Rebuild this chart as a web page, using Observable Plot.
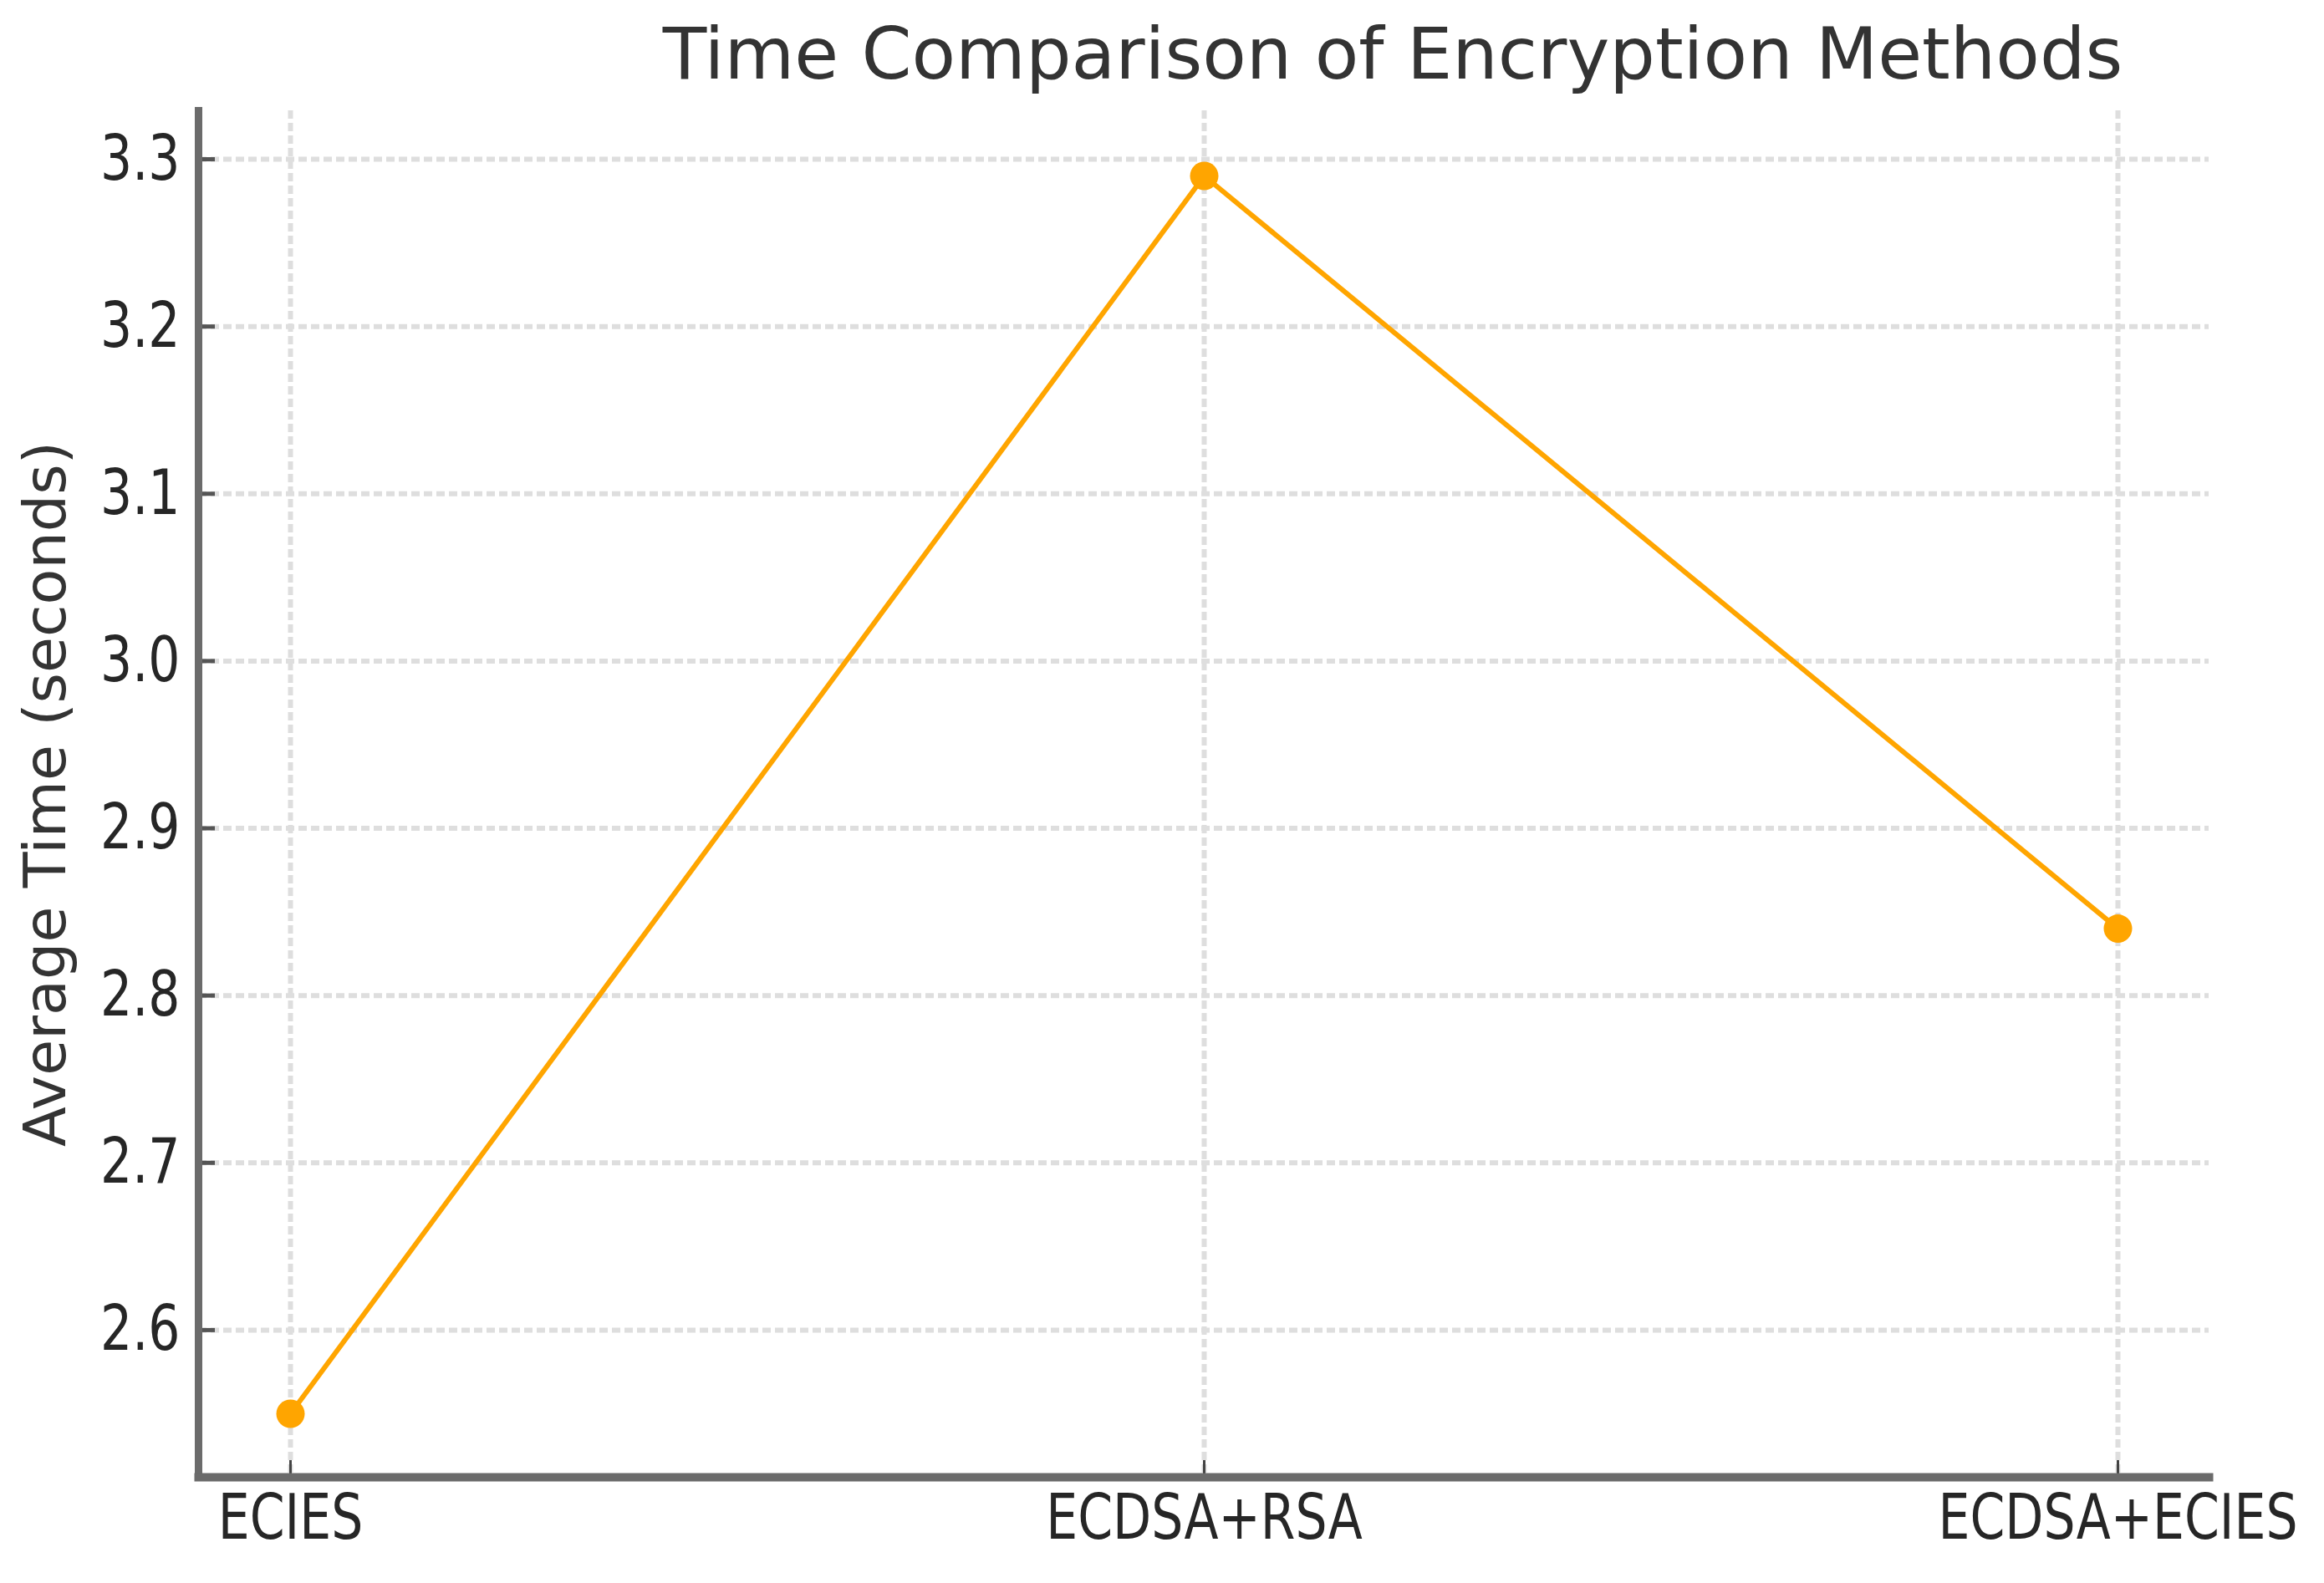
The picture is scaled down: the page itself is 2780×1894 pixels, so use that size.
<!DOCTYPE html>
<html>
<head>
<meta charset="utf-8">
<script src="https://cdn.jsdelivr.net/npm/d3@7"></script>
<script src="https://cdn.jsdelivr.net/npm/@observablehq/plot@0.6"></script>
<style>
  html, body { margin: 0; padding: 0; background: #fff; }
  #wrap { width: 2780px; height: 1894px; position: relative; overflow: hidden; }
  #title {
    width: 2780px; box-sizing: border-box; height: 120px;
    padding-left: 552px; padding-top: 14px;
    text-align: center; font-family: "DejaVu Sans", sans-serif;
    font-size: 86px; line-height: 100px; color: #333; white-space: nowrap;
  }
</style>
</head>
<body>
<div id="wrap">
  <div id="title">Time Comparison of Encryption Methods</div>
  <div id="chart"></div>
</div>
<script>
const methods = ["ECIES", "ECDSA+RSA", "ECDSA+ECIES"];
const avgTimes = [2.55, 3.29, 2.84];
const yTicks = [2.6, 2.7, 2.8, 2.9, 3.0, 3.1, 3.2, 3.3];
const yLabel = "Average Time (seconds)";

const data = methods.map((m, i) => ({method: m, time: avgTimes[i]}));

const font = "DejaVu Sans, sans-serif";
const svg = Plot.plot({
  width: 2780,
  height: 1774,
  marginTop: 12,
  marginBottom: 127,
  marginLeft: 237,
  marginRight: 138,
  style: {fontFamily: font, fontSize: "75px", color: "#262626", background: "white"},
  x: {type: "point", domain: methods, padding: 0.1},
  y: {domain: [2.512, 3.329]},
  marks: [
    Plot.gridX(methods, {stroke: "#dedede", strokeOpacity: 1, strokeWidth: 6, strokeDasharray: "10,5"}),
    Plot.gridY(yTicks, {stroke: "#dedede", strokeOpacity: 1, strokeWidth: 6, strokeDasharray: "10,5"}),
    Plot.line(data, {x: "method", y: "time", stroke: "#FFA500", strokeWidth: 6}),
    Plot.dot(data, {x: "method", y: "time", r: 17, fill: "#FFA500", stroke: "none"}),
    Plot.axisX({ticks: methods, tickSize: 0, tickPadding: 20, label: null, fill: "#262626", fontSize: 75}),
    Plot.axisX({ticks: methods, tickSize: -20, text: null, label: null, stroke: "#444", strokeWidth: 3}),
    Plot.axisY({ticks: yTicks, tickSize: 0, tickPadding: 22, tickFormat: d3.format(".1f"), label: null, fill: "#262626", fontSize: 75}),
    Plot.axisY({ticks: yTicks, tickSize: -20, text: null, label: null, stroke: "#555", strokeWidth: 5}),
    Plot.frame({anchor: "left", stroke: "#6b6b6b", strokeWidth: 9}),
    Plot.frame({anchor: "bottom", stroke: "#6b6b6b", strokeWidth: 10}),
    Plot.text([yLabel], {text: d => d, frameAnchor: "left", textAnchor: "middle", rotate: -90, dx: -182, fontSize: 70, fill: "#333"})
  ]
});

// narrow the tick labels as in the reference
d3.select(svg).selectAll('g[aria-label="x-axis tick label"] text, g[aria-label="y-axis tick label"] text')
  .each(function() {
    const t = this.getAttribute("transform") || "";
    this.setAttribute("transform", t + " scale(0.8,1)");
  });

document.getElementById("chart").appendChild(svg);
</script>
</body>
</html>
